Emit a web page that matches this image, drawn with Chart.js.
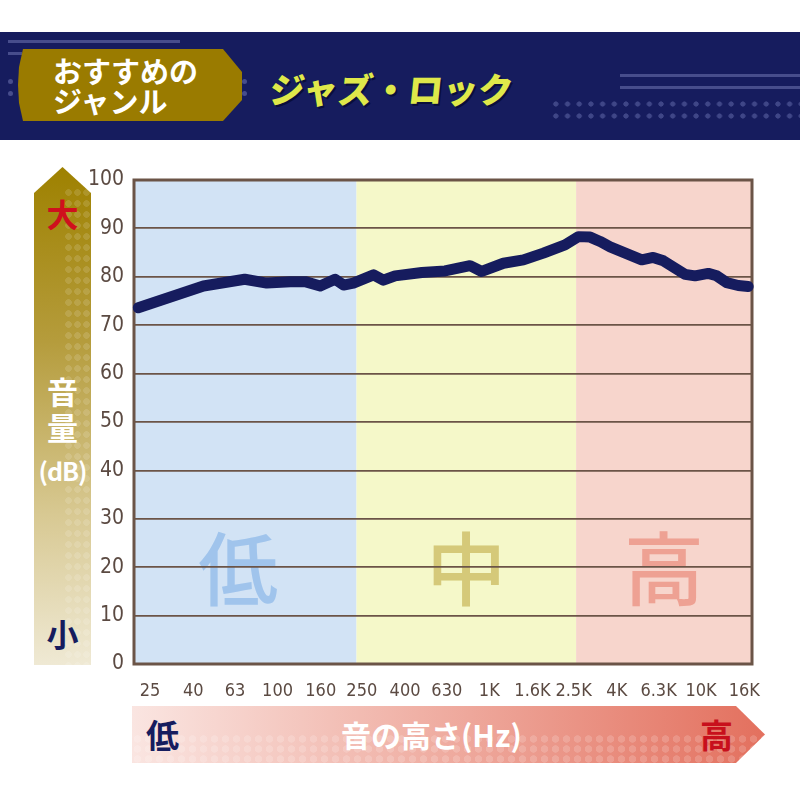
<!DOCTYPE html>
<html lang="ja">
<head>
<meta charset="utf-8">
<title>おすすめのジャンル ジャズ・ロック</title>
<script src="https://cdn.jsdelivr.net/npm/chart.js@4.4.1/dist/chart.umd.min.js"></script>
<style>
  body { margin: 0; background: #fff; }
  #wrap { position: relative; width: 800px; height: 800px; overflow: hidden; font-family: 'Noto Sans CJK JP', sans-serif; }
  #chart { position: absolute; left: 0; top: 0; }
  .abs { position: absolute; }
  .band { left: 0; top: 32px; width: 800px; height: 108px; background: #161c5e; }
  .bar { background: #474d8c; height: 3px; }
  .dot { width: 5px; height: 5px; border-radius: 50%; background: #474d8c; }
  .badge {
    left: 18px; top: 17px; width: 224px; height: 72px; background: #9a7b00;
    clip-path: polygon(5px 0, 205px 0, 224px 23px, 224px 51px, 205px 72px, 5px 72px, 1px 54px, 0 36px, 1px 18px);
  }
  .badge span { position: absolute; left: 35px; color: #fff; font-weight: 700; font-size: 29px; line-height: 30px; white-space: nowrap; }
  .title {
    left: 270px; top: 34px; color: #dfe84a; font-weight: 900; font-size: 35px; line-height: 44px;
    text-shadow: 2px 2px 0 #0a0e3a; transform: skewX(-6deg); white-space: nowrap;
  }
  .dotgrid {
    left: 550px; top: 66px; width: 250px; height: 24px;
    background: radial-gradient(circle, #3f4687 2.3px, transparent 2.9px);
    background-size: 11.7px 12px;
  }
  .varrow {
    left: 34px; top: 167px; width: 57px; height: 498px;
    background: linear-gradient(to bottom, #9e8100 0%, #b59c3c 35%, #d8c993 70%, #efe9d4 100%);
    clip-path: polygon(50% 0, 100% 26px, 100% 100%, 0 100%, 0 26px);
  }
  .varrow .tex {
    position: absolute; left: 30px; top: 20px; width: 27px; height: 478px;
    background: radial-gradient(circle, rgba(255,255,255,0.13) 3px, transparent 3.6px);
    background-size: 9px 11px;
  }
  .varrow span { position: absolute; left: 0; width: 57px; text-align: center; font-weight: 700; white-space: nowrap; }
  .harrow {
    left: 132px; top: 706px; width: 633px; height: 57px;
    background: linear-gradient(to right, #fae5e1 0%, #f0b1a6 45%, #e3705e 100%);
    clip-path: polygon(0 0, 604px 0, 100% 50%, 604px 100%, 0 100%);
  }
  .harrow .tex {
    position: absolute; left: 0; top: 28px; width: 633px; height: 29px;
    background: radial-gradient(circle, rgba(255,255,255,0.16) 3.4px, transparent 4px);
    background-size: 11px 10px;
  }
  .harrow span { position: absolute; top: 0; line-height: 57px; font-weight: 700; white-space: nowrap; }
</style>
</head>
<body>
<div id="wrap">
  <canvas id="chart" width="800" height="800"></canvas>

  <div class="abs band">
    <div class="abs bar" style="left:8px;top:8px;width:172px"></div>
    <div class="abs bar" style="left:8px;top:20px;width:14px"></div>
    <div class="abs dot" style="left:8px;top:47px"></div>
    <div class="abs dot" style="left:8px;top:59px"></div>
    <div class="abs dot" style="left:242px;top:47px"></div>
    <div class="abs dot" style="left:242px;top:59px"></div>
    <div class="abs badge">
      <span style="top:6px">おすすめの</span>
      <span style="top:36px">ジャンル</span>
    </div>
    <div class="abs title">ジャズ・ロック</div>
    <div class="abs bar" style="left:620px;top:42px;width:180px"></div>
    <div class="abs bar" style="left:620px;top:54px;width:180px"></div>
    <div class="abs dotgrid"></div>
  </div>

  <div class="abs varrow">
    <div class="tex"></div>
    <span style="top:26px;font-size:32px;line-height:40px;color:#cf101d">大</span>
    <span style="top:205px;font-size:31px;line-height:38px;color:#fff">音</span>
    <span style="top:241px;font-size:31px;line-height:38px;color:#fff">量</span>
    <span style="top:286px;font-size:25px;line-height:34px;color:#fff;letter-spacing:-1px">(dB)</span>
    <span style="top:446px;font-size:32px;line-height:40px;color:#161c5e">小</span>
  </div>

  <div class="abs harrow">
    <div class="tex"></div>
    <span style="left:14px;font-size:33px;color:#161c5e">低</span>
    <span style="left:209px;font-size:30px;color:#fff">音の高さ(Hz)</span>
    <span style="left:568px;font-size:33px;color:#c8101c">高</span>
  </div>
</div>

<script>
// frequency response (Hz / dB)
const freqs = [22, 44.7, 70, 89, 115, 135, 159, 187, 205, 228, 284, 316, 359, 480, 618,
  811, 921, 1166, 1449, 1800, 2278, 2635, 2993, 3336, 3720, 5247, 5943, 6640, 8405,
  9370, 10813, 11860, 13220, 14980, 16695];
const levels = [73.6, 78.1, 79.5, 78.7, 79.0, 79.0, 78.1, 79.5, 78.3, 78.7, 80.4, 79.3, 80.2, 80.9, 81.2,
  82.3, 81.1, 82.8, 83.5, 84.9, 86.6, 88.3, 88.2, 87.3, 86.2, 83.5, 84.0, 83.3, 80.5,
  80.2, 80.7, 80.2, 78.8, 78.2, 78.0];

const tickFreqs = [25, 40, 63, 100, 160, 250, 400, 630, 1000, 1600, 2500, 4000, 6300, 10000, 16000];
const tickLabels = ['25', '40', '63', '100', '160', '250', '400', '630', '1K', '1.6K', '2.5K', '4K', '6.3K', '10K', '16K'];

// low / mid / high bands
const zoneEdges = [21, 236, 2570, 17400];
const zoneNames = ['低', '中', '高'];
const zoneLabelLevel = 19.8;

const zoneFill = ['#d2e3f5', '#f5f8c9', '#f7d5cc'];
const zoneInk = ['#a0c4ec', '#d5c979', '#eea193'];
const brown = '#6b5447';
const tickFont = "'DejaVu Sans Condensed', 'Liberation Sans Narrow', sans-serif";

const zonesPlugin = {
  id: 'zones',
  beforeDraw(chart) {
    const { ctx, chartArea: a, scales: { x, y } } = chart;
    ctx.save();
    for (let i = 0; i < zoneNames.length; i++) {
      const x0 = Math.max(a.left, x.getPixelForValue(zoneEdges[i]));
      const x1 = Math.min(a.right, x.getPixelForValue(zoneEdges[i + 1]));
      ctx.fillStyle = zoneFill[i];
      ctx.fillRect(x0, a.top, x1 - x0, a.bottom - a.top);
      ctx.fillStyle = zoneInk[i];
      ctx.font = "500 80px 'Noto Sans CJK JP', sans-serif";
      ctx.textAlign = 'center';
      ctx.textBaseline = 'middle';
      ctx.fillText(zoneNames[i], (x0 + x1) / 2 - (i === 0 ? 7 : 0), y.getPixelForValue(zoneLabelLevel));
    }
    ctx.restore();
  },
  beforeDatasetsDraw(chart) {
    const { ctx, chartArea: a } = chart;
    ctx.save();
    ctx.strokeStyle = brown;
    ctx.lineWidth = 3;
    ctx.strokeRect(a.left, a.top, a.right - a.left, a.bottom - a.top);
    ctx.restore();
  }
};

new Chart(document.getElementById('chart'), {
  type: 'line',
  data: {
    datasets: [{
      data: freqs.map((f, i) => ({ x: f, y: levels[i] })),
      borderColor: '#161c5e',
      borderWidth: 11,
      borderJoinStyle: 'round',
      borderCapStyle: 'round',
      pointRadius: 0,
      tension: 0,
      clip: false
    }]
  },
  options: {
    responsive: false,
    animation: false,
    devicePixelRatio: 1,
    layout: { padding: { left: 84, right: 48, top: 180, bottom: 100 } },
    plugins: { legend: { display: false }, tooltip: { enabled: false } },
    scales: {
      x: {
        type: 'logarithmic',
        min: 21,
        max: 17400,
        grid: { display: false },
        border: { display: false },
        afterBuildTicks: (scale) => { scale.ticks = tickFreqs.map((v) => ({ value: v })); },
        afterFit: (scale) => { scale.height = 36; },
        ticks: {
          autoSkip: false,
          maxRotation: 0,
          padding: 9,
          color: '#5b4a42',
          font: { family: tickFont, size: 18 },
          callback: (value, index) => tickLabels[index]
        }
      },
      y: {
        min: 0,
        max: 100,
        grid: { color: brown, lineWidth: 1.8, drawTicks: false },
        border: { display: false },
        afterFit: (scale) => { scale.width = 50; },
        ticks: {
          stepSize: 10,
          padding: 10,
          color: '#5b4a42',
          font: { family: tickFont, size: 21 }
        }
      }
    }
  },
  plugins: [zonesPlugin]
});
</script>
</body>
</html>
